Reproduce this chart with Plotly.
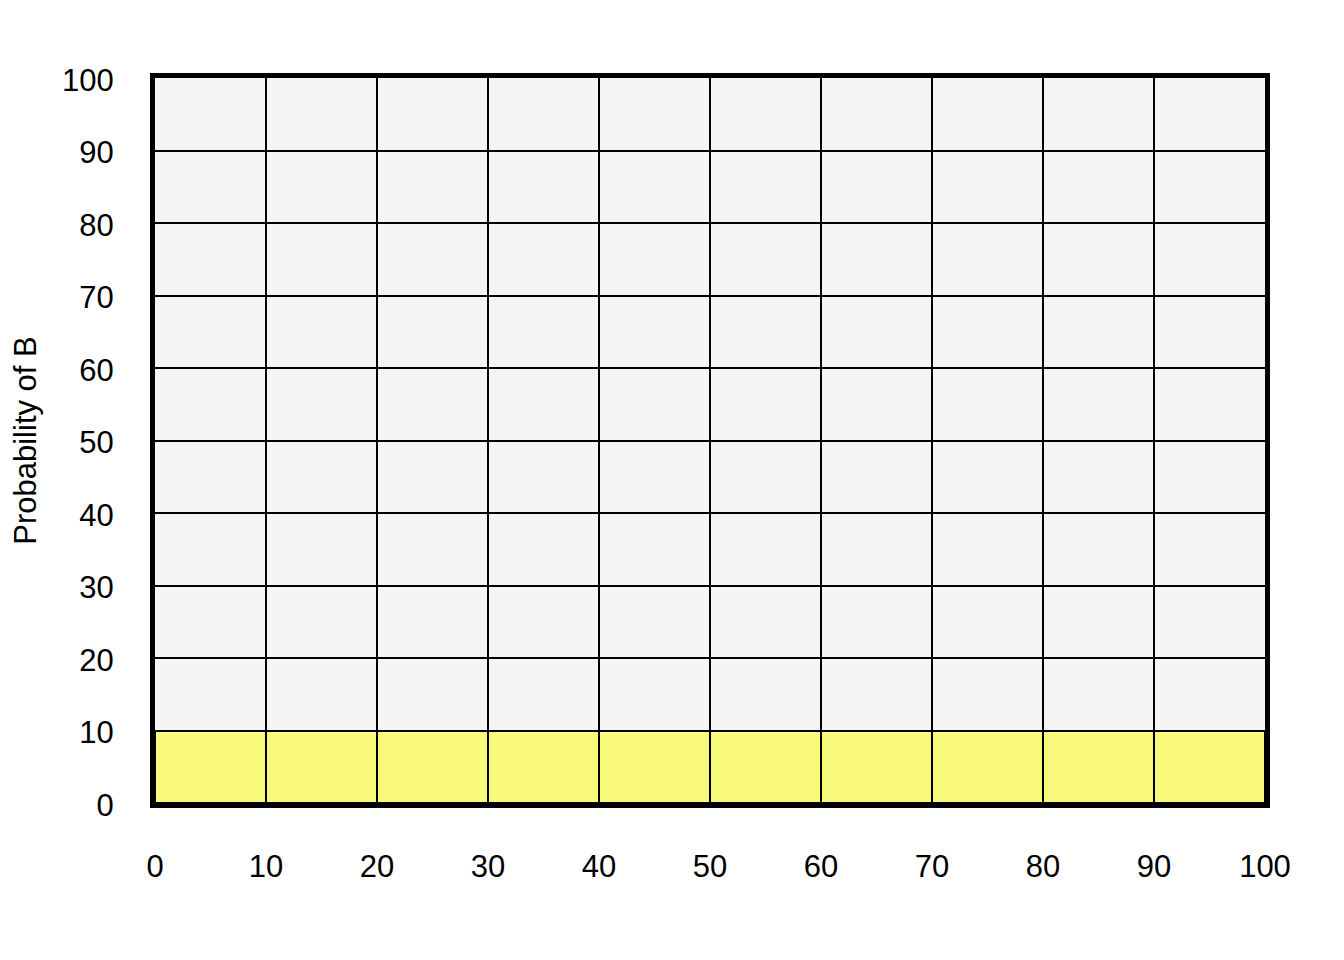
import plotly.graph_objects as go

# Data
bin_centers = [5, 15, 25, 35, 45, 55, 65, 75, 85, 95]
probability = [10, 10, 10, 10, 10, 10, 10, 10, 10, 10]
x_ticks = [0, 10, 20, 30, 40, 50, 60, 70, 80, 90, 100]
y_ticks = [0, 10, 20, 30, 40, 50, 60, 70, 80, 90, 100]
y_title = "Probability of B"

fig = go.Figure()
fig.add_trace(go.Bar(
    x=bin_centers, y=probability, width=10,
    marker=dict(color="#f9f97a", line=dict(color="black", width=2)),
    hoverinfo="skip", showlegend=False,
))

font = dict(family="Liberation Sans, Arial, sans-serif", size=31, color="black")

fig.update_layout(
    width=1344, height=960,
    margin=dict(l=146.5, r=87, t=70, b=164.5, autoexpand=False),
    paper_bgcolor="white",
    plot_bgcolor="#f5f5f5",
    font=font,
    showlegend=False,
    bargap=0,
    xaxis=dict(
        range=[0, 100], tickvals=x_ticks, ticktext=[str(v) for v in x_ticks],
        showgrid=True, gridcolor="black", gridwidth=2,
        showline=True, linecolor="black", linewidth=5, mirror=True,
        ticks="outside", ticklen=32, tickcolor="rgba(0,0,0,0)",
        zeroline=False, layer="above traces", tickfont=font, automargin=False,
    ),
    yaxis=dict(
        range=[0, 100], tickvals=y_ticks, ticktext=[str(v) for v in y_ticks],
        showgrid=True, gridcolor="black", gridwidth=2,
        showline=True, linecolor="black", linewidth=5, mirror=True,
        ticks="outside", ticklen=30, tickcolor="rgba(0,0,0,0)",
        ticklabelshift=2,
        zeroline=False, layer="above traces", tickfont=font, automargin=False,
        title=dict(text=y_title, font=font, standoff=18),
    ),
)

fig.write_html("out.html")
